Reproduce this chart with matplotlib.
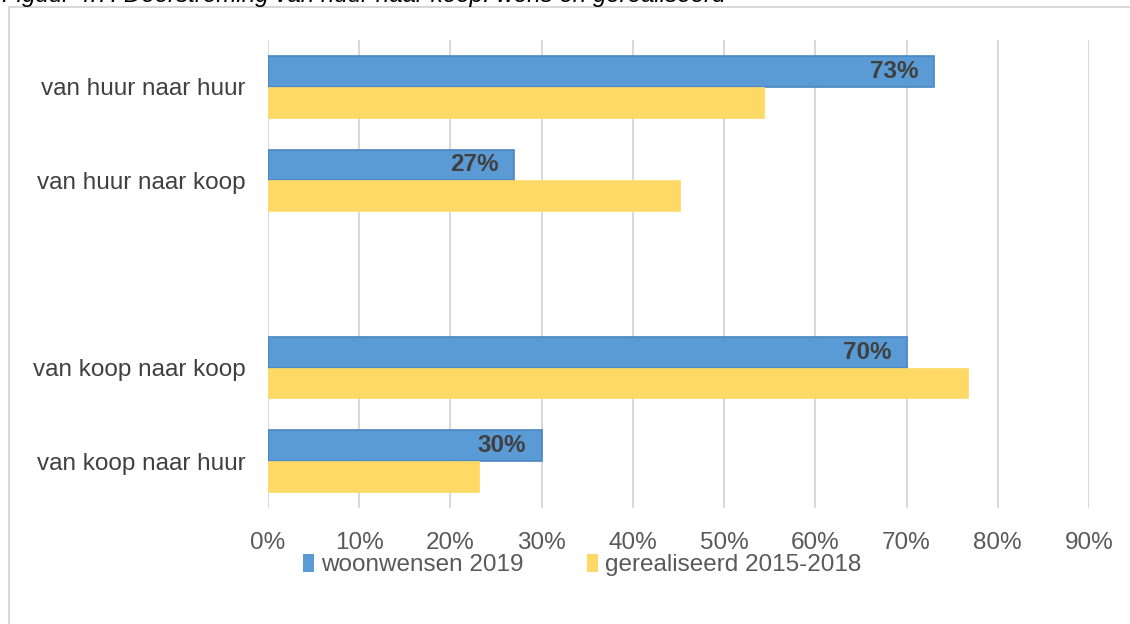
import matplotlib
matplotlib.use("Agg")
import matplotlib.pyplot as plt
from matplotlib.patches import Rectangle
import numpy as np

plt.rcParams['font.family'] = ['Liberation Sans', 'DejaVu Sans']

categories = ["van huur naar huur", "van huur naar koop", "", "van koop naar koop", "van koop naar huur"]
woonwensen_2019 = [0.73, 0.27, np.nan, 0.70, 0.30]
gerealiseerd_2015_2018 = [0.544, 0.452, np.nan, 0.767, 0.231]
series_names = ["woonwensen 2019", "gerealiseerd 2015-2018"]
x_ticks = [0.0, 0.1, 0.2, 0.3, 0.4, 0.5, 0.6, 0.7, 0.8, 0.9]
caption = "Figuur 4.7: Doorstroming van huur naar koop: wens en gerealiseerd"

BLUE = "#5B9BD5"
BLUE_EDGE = "#4A86C2"
YELLOW = "#FFD966"
GRID = "#D9D9D9"
TEXT = "#595959"
FS = 17.5

W, H = 1130, 624
fig = plt.figure(figsize=(W / 100, H / 100), dpi=100)
ax = fig.add_axes([268 / W, 1 - 508 / H, (1089 - 268) / W, (508 - 40) / H])

y = np.arange(len(categories))
h = 0.33
ax.barh(y - h / 2, woonwensen_2019, height=h, color=BLUE, edgecolor=BLUE_EDGE,
        linewidth=1.2, label=series_names[0], zorder=3)
ax.barh(y + h / 2, gerealiseerd_2015_2018, height=h, color=YELLOW,
        edgecolor=YELLOW, linewidth=0.5, label=series_names[1], zorder=3)

for yi, v in zip(y, woonwensen_2019):
    if np.isnan(v):
        continue
    ax.annotate(f"{v:.0%}", xy=(v, yi - h / 2), xytext=(-11, 0),
                textcoords="offset points", ha="right", va="center",
                fontsize=FS, fontweight="bold", color="#404040", zorder=4)

ax.set_xlim(0, 0.9)
ax.set_ylim(len(categories) - 0.5, -0.5)
ax.set_xticks(x_ticks)
ax.set_xticklabels([f"{t:.0%}" for t in x_ticks], fontsize=FS, color=TEXT)
ax.set_yticks(y)
ax.set_yticklabels(categories, fontsize=FS, color="#404040")
ax.tick_params(axis="both", length=0)
ax.tick_params(axis="x", pad=17)
ax.tick_params(axis="y", pad=16)
ax.grid(axis="x", color=GRID, linewidth=1.5, zorder=0)
for s in ax.spines.values():
    s.set_visible(False)

leg = fig.legend(loc="center", bbox_to_anchor=(582 / W, 1 - 565 / H), ncol=2,
                 frameon=False, fontsize=FS, handlelength=0.45, handleheight=0.8,
                 handletextpad=0.3, columnspacing=2.6)
for t in leg.get_texts():
    t.set_color(TEXT)
for p in leg.get_patches():
    p.set_linewidth(0)

# outer frame of the chart area
fig.patches.append(Rectangle((9 / W, -0.05), 1.1, 1 - 7 / H + 0.05,
                             transform=fig.transFigure, fill=False,
                             edgecolor=GRID, linewidth=1.5))

# caption above the chart, partly cut by the top edge
fig.text(2 / W, 1 - 2 / H, caption, fontsize=17.4, style="italic",
         color="#000000", ha="left", va="baseline")

fig.savefig("out.png", dpi=100)
